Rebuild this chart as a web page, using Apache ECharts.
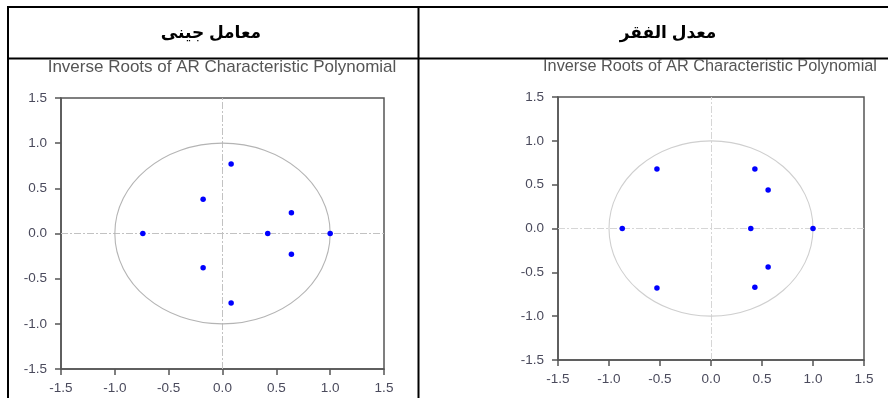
<!DOCTYPE html>
<html>
<head>
<meta charset="utf-8">
<style>
  html, body { margin: 0; padding: 0; background: #fff; }
  #chart { width: 888px; height: 398px; }
</style>
<script src="https://cdn.jsdelivr.net/npm/echarts@6/dist/echarts.min.js"></script>
</head>
<body>
<div id="chart"></div>
<script>
// Column headings of the table
const headerGini = 'معامل جينى';
const headerPoverty = 'معدل الفقر';
const plotTitle = 'Inverse Roots of AR Characteristic Polynomial';

// Axis ticks shared by both plots
const tickValues = [-1.5, -1.0, -0.5, 0.0, 0.5, 1.0, 1.5];

// Inverse AR roots – Gini coefficient model (real / imaginary parts)
const giniRe = [0.08, -0.18, 0.64, -0.74, 0.42, 1.00, 0.64, -0.18, 0.08];
const giniIm = [0.77, 0.38, 0.23, 0.00, 0.00, 0.00, -0.23, -0.38, -0.77];

// Inverse AR roots – poverty rate model (real / imaginary parts)
const povRe = [-0.53, 0.43, 0.56, -0.87, 0.39, 1.00, 0.56, 0.43, -0.53];
const povIm = [0.68, 0.68, 0.44, 0.00, 0.00, 0.00, -0.44, -0.67, -0.68];

// Unit circle: centre x, centre y, radius
const unitCircle = [[0, 0, 1]];

const zip = (a, b) => a.map((v, i) => [v, b[i]]);

const chart = echarts.init(document.getElementById('chart'), null, { renderer: 'canvas' });

const grids = [
  { left: 61, top: 98, width: 323, height: 271 },
  { left: 558, top: 97, width: 306, height: 263 }
];

function makeAxis(idx, isX) {
  return {
    type: 'value',
    gridIndex: idx,
    min: tickValues[0],
    max: tickValues[tickValues.length - 1],
    interval: tickValues[1] - tickValues[0],
    axisLine: { show: true, onZero: false, lineStyle: { color: '#555', width: 1.5 } },
    axisTick: { show: true, length: 6, lineStyle: { color: '#555', width: 1.5 } },
    splitLine: { show: false },
    axisLabel: {
      color: '#4a4a5c',
      fontFamily: 'Arial, Liberation Sans, sans-serif',
      fontSize: 13.5,
      margin: isX ? 12 : 14,
      formatter: v => v.toFixed(1)
    }
  };
}

function circleSeries(idx, color) {
  return {
    type: 'custom',
    xAxisIndex: idx,
    yAxisIndex: idx,
    silent: true,
    data: unitCircle,
    encode: { x: 0, y: 1 },
    renderItem: (params, api) => {
      const c = api.coord([api.value(0), api.value(1)]);
      const e = api.coord([api.value(0) + api.value(2), api.value(1) + api.value(2)]);
      return {
        type: 'ellipse',
        shape: { cx: c[0], cy: c[1], rx: e[0] - c[0], ry: c[1] - e[1] },
        style: { fill: 'none', stroke: color, lineWidth: 1.1 }
      };
    },
    z: 2
  };
}

function rootSeries(idx, data, zeroColor) {
  return {
    type: 'scatter',
    xAxisIndex: idx,
    yAxisIndex: idx,
    data: data,
    symbol: 'circle',
    symbolSize: 5.5,
    itemStyle: { color: '#0000ff', opacity: 1 },
    z: 5,
    markLine: {
      silent: true,
      symbol: 'none',
      label: { show: false },
      lineStyle: { color: zeroColor, width: 1, type: [7, 2, 2, 2] },
      data: [{ xAxis: 0 }, { yAxis: 0 }],
      z: 1
    }
  };
}

const option = {
  animation: false,
  backgroundColor: '#fff',
  title: [
    {
      text: plotTitle, left: 222, top: 59, padding: 0, textAlign: 'center',
      textStyle: { color: '#555', fontWeight: 'normal', fontSize: 17, fontFamily: 'Arial, Liberation Sans, sans-serif' }
    },
    {
      text: plotTitle, left: 710, top: 59, padding: 0, textAlign: 'center',
      textStyle: { color: '#555', fontWeight: 'normal', fontSize: 16.3, fontFamily: 'Arial, Liberation Sans, sans-serif' }
    }
  ],
  grid: grids.map(g => Object.assign({ show: true, borderColor: '#555', borderWidth: 1.5, backgroundColor: '#fff' }, g)),
  xAxis: [makeAxis(0, true), makeAxis(1, true)],
  yAxis: [makeAxis(0, false), makeAxis(1, false)],
  series: [
    circleSeries(0, '#b4b4b4'),
    rootSeries(0, zip(giniRe, giniIm), '#c2c2c2'),
    circleSeries(1, '#cfcfcf'),
    rootSeries(1, zip(povRe, povIm), '#d6d6d6')
  ],
  graphic: [
    // table frame
    { type: 'line', shape: { x1: 7, y1: 7, x2: 888, y2: 7 }, style: { stroke: '#000', lineWidth: 2 }, silent: true },
    { type: 'line', shape: { x1: 7, y1: 58.5, x2: 888, y2: 58.5 }, style: { stroke: '#000', lineWidth: 2 }, silent: true },
    { type: 'line', shape: { x1: 8, y1: 6, x2: 8, y2: 398 }, style: { stroke: '#000', lineWidth: 2 }, silent: true },
    { type: 'line', shape: { x1: 418.5, y1: 6, x2: 418.5, y2: 398 }, style: { stroke: '#000', lineWidth: 2 }, silent: true },
    // column headings
    {
      type: 'text', x: 211, y: 33, silent: true,
      style: { text: headerGini, fill: '#000', align: 'center', verticalAlign: 'middle', font: 'bold 17px Arial, "DejaVu Sans", sans-serif' }
    },
    {
      type: 'text', x: 668, y: 33, silent: true,
      style: { text: headerPoverty, fill: '#000', align: 'center', verticalAlign: 'middle', font: 'bold 17px Arial, "DejaVu Sans", sans-serif' }
    }
  ]
};

chart.setOption(option);
</script>
</body>
</html>
